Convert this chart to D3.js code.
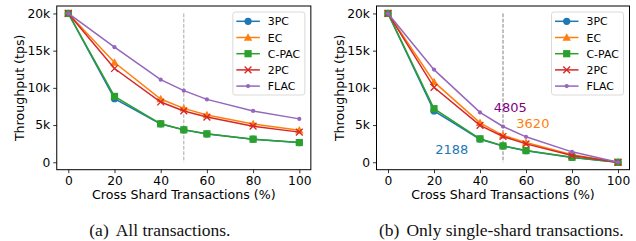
<!DOCTYPE html>
<html>
<head>
<meta charset="utf-8">
<script src="https://cdn.jsdelivr.net/npm/d3@7"></script>
<style>
  body { margin: 0; background: #fff; }
  svg { display: block; }
</style>
</head>
<body>
<svg id="chart" width="636" height="241"></svg>
<script>
// x positions (% cross shard transactions)
const xPct = [0, 20, 40, 50, 60, 80, 100];
const seriesNames = ["3PC", "EC", "C-PAC", "2PC", "FLAC"];

// (a) all transactions
const allThreePC = [20000, 8550, 5150, 4350, 3800, 3100, 2650];
const allEC      = [20000, 13400, 8500, 7240, 6350, 5150, 4300];
const allCPAC    = [20000, 8850, 5170, 4360, 3820, 3100, 2650];
const allTwoPC   = [20000, 12600, 8100, 6900, 6070, 4850, 4050];
const allFLAC    = [20000, 15460, 11100, 9620, 8450, 6900, 5830];

// (b) only single-shard transactions
const singleThreePC = [20000, 6900, 3100, 2188, 1550, 650, 0];
const singleEC      = [20000, 10800, 5300, 3620, 2650, 1000, 0];
const singleCPAC    = [20000, 7200, 3150, 2200, 1570, 670, 0];
const singleTwoPC   = [20000, 10070, 4950, 3460, 2470, 900, 0];
const singleFLAC    = [20000, 12450, 6700, 4805, 3420, 1400, 0];

const xTicks = [0, 20, 40, 60, 80, 100];
const yTicks = [0, 5000, 10000, 15000, 20000];
const yTickLabels = ["0", "5k", "10k", "15k", "20k"];

// annotations on panel (b): text, x, y (data coords of text baseline-left)
const noteText = ["4805", "3620", "2188"];
const noteX = [46, 55.8, 20.5];
const noteY = [6760, 4600, 1130];
const noteColor = ["#800080", "#ff7f0e", "#1f77b4"];

const colors = { "3PC": "#1f77b4", "EC": "#ff7f0e", "C-PAC": "#2ca02c", "2PC": "#d62728", "FLAC": "#9467bd" };
const markers = { "3PC": "circle", "EC": "triangle", "C-PAC": "square", "2PC": "x", "FLAC": "dot" };

const svg = d3.select("#chart");
const font = "'DejaVu Sans', sans-serif";

function drawMarker(g, type, cx, cy, color) {
  if (type === "circle") {
    g.append("circle").attr("cx", cx).attr("cy", cy).attr("r", 3.6).attr("fill", color);
  } else if (type === "dot") {
    g.append("circle").attr("cx", cx).attr("cy", cy).attr("r", 2.1).attr("fill", color);
  } else if (type === "square") {
    g.append("rect").attr("x", cx - 3.6).attr("y", cy - 3.6).attr("width", 7.2).attr("height", 7.2).attr("fill", color);
  } else if (type === "triangle") {
    const s = 4.2;
    g.append("path")
      .attr("d", `M${cx},${cy - s} L${cx + s},${cy + s * 0.75} L${cx - s},${cy + s * 0.75} Z`)
      .attr("fill", color);
  } else if (type === "x") {
    const s = 3.4;
    g.append("path")
      .attr("d", `M${cx - s},${cy - s} L${cx + s},${cy + s} M${cx - s},${cy + s} L${cx + s},${cy - s}`)
      .attr("stroke", color).attr("stroke-width", 1.3).attr("fill", "none");
  }
}

function drawPanel(left, right, series, dashColor) {
  const top = 6, bottom = 169.7;
  const x = d3.scaleLinear().domain([-5, 105]).range([left, right]);
  const y = d3.scaleLinear().domain([-1000, 21000]).range([bottom, top]);
  const g = svg.append("g");

  // dashed reference line at 50%
  g.append("line")
    .attr("x1", x(50)).attr("x2", x(50))
    .attr("y1", y(20000)).attr("y2", y(0))
    .attr("stroke", dashColor).attr("stroke-width", 1)
    .attr("stroke-dasharray", "3.7,1.6");

  const line = d3.line().x((d, i) => x(xPct[i])).y(d => y(d));
  seriesNames.forEach((name, k) => {
    const vals = series[k];
    g.append("path").datum(vals)
      .attr("d", line)
      .attr("fill", "none")
      .attr("stroke", colors[name])
      .attr("stroke-width", 1.5);
    const mg = g.append("g");
    vals.forEach((v, i) => drawMarker(mg, markers[name], x(xPct[i]), y(v), colors[name]));
  });

  // axes
  const xAxis = g.append("g")
    .attr("transform", `translate(0,${bottom})`)
    .call(d3.axisBottom(x).tickValues(xTicks).tickSize(3.5).tickPadding(3));
  const yAxis = g.append("g")
    .attr("transform", `translate(${left},0)`)
    .call(d3.axisLeft(y).tickValues(yTicks).tickFormat((d, i) => yTickLabels[i]).tickSize(3.5).tickPadding(3));
  [xAxis, yAxis].forEach(a => {
    a.select(".domain").remove();
    a.selectAll("text").attr("font-family", font).attr("font-size", 12.3).attr("fill", "#000");
    a.selectAll("line").attr("stroke", "#000").attr("stroke-width", 0.8);
  });

  // frame
  g.append("rect")
    .attr("x", left).attr("y", top)
    .attr("width", right - left).attr("height", bottom - top)
    .attr("fill", "none").attr("stroke", "#000").attr("stroke-width", 1);

  // axis labels
  g.append("text")
    .attr("x", (left + right) / 2).attr("y", 198.5)
    .attr("text-anchor", "middle")
    .attr("font-family", font).attr("font-size", 12.6)
    .text("Cross Shard Transactions (%)");
  g.append("text")
    .attr("transform", `translate(${left - 32.3},${(top + bottom) / 2}) rotate(-90)`)
    .attr("text-anchor", "middle")
    .attr("font-family", font).attr("font-size", 12.6)
    .text("Throughput (tps)");

  // legend
  const lw = 72, lh = 83;
  const lx = right - 6 - lw, ly = 12;
  const lg = g.append("g");
  lg.append("rect")
    .attr("x", lx).attr("y", ly).attr("width", lw).attr("height", lh)
    .attr("rx", 2.5)
    .attr("fill", "#fff").attr("fill-opacity", 0.8)
    .attr("stroke", "#d0d0d0").attr("stroke-width", 0.8);
  seriesNames.forEach((name, i) => {
    const cy = ly + 9.3 + i * 16.2;
    lg.append("line")
      .attr("x1", lx + 3.5).attr("x2", lx + 27)
      .attr("y1", cy).attr("y2", cy)
      .attr("stroke", colors[name]).attr("stroke-width", 1.5);
    drawMarker(lg, markers[name], lx + 15.2, cy, colors[name]);
    lg.append("text")
      .attr("x", lx + 35).attr("y", cy + 4)
      .attr("font-family", font).attr("font-size", 10.9)
      .text(name);
  });

  return { x, y, g };
}

const panelA = drawPanel(56.75, 310.85,
  [allThreePC, allEC, allCPAC, allTwoPC, allFLAC], "#a8a8a8");
const panelB = drawPanel(376.5, 629.5,
  [singleThreePC, singleEC, singleCPAC, singleTwoPC, singleFLAC], "#808080");

noteText.forEach((t, i) => {
  panelB.g.append("text")
    .attr("x", panelB.x(noteX[i])).attr("y", panelB.y(noteY[i]))
    .attr("font-family", font).attr("font-size", 13)
    .attr("fill", noteColor[i])
    .text(t);
});

// captions
const serif = "'Liberation Serif', 'DejaVu Serif', serif";
function caption(xa, label, text) {
  const t = svg.append("text")
    .attr("x", xa).attr("y", 236)
    .attr("font-family", serif).attr("font-size", 17.5)
    .attr("fill", "#111");
  t.append("tspan").text(label);
  t.append("tspan").attr("dx", 7).text(text);
}
caption(89.3, "(a)", "All transactions.");
caption(379, "(b)", "Only single-shard transactions.");
</script>
</body>
</html>
